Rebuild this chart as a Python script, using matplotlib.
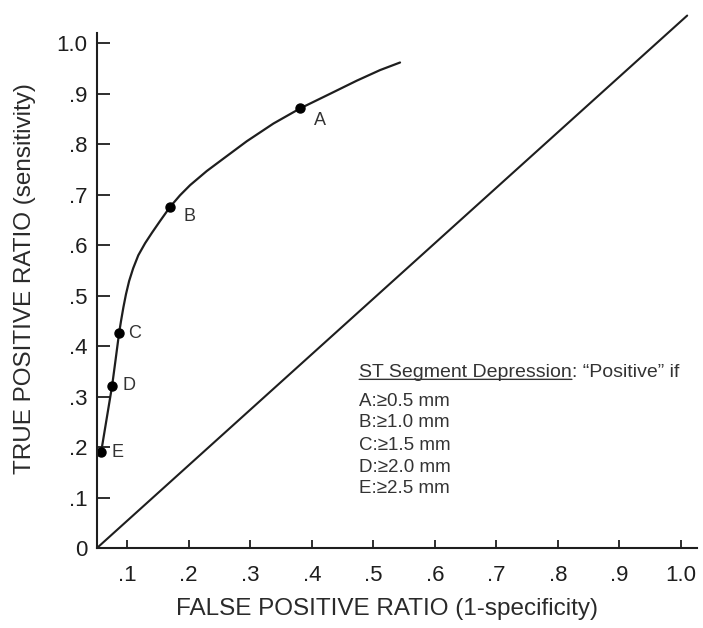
import matplotlib
matplotlib.use("Agg")
from matplotlib import pyplot as plt
from matplotlib.ticker import FixedLocator

plt.rcParams['font.family'] = ['Liberation Sans', 'DejaVu Sans']

ink = '#1e1e1e'

# ROC curve traced through the cut-off points
curve_fpr = [0.0577, 0.0755, 0.0812, 0.0869, 0.0902, 0.0939, 0.0981, 0.1032,
             0.1097, 0.1181, 0.1292, 0.1405, 0.1535, 0.1698, 0.1860, 0.2023,
             0.2294, 0.2591, 0.2944, 0.3376, 0.3810, 0.4297, 0.4731, 0.5110,
             0.5434]
curve_tpr = [0.190, 0.321, 0.373, 0.426, 0.451, 0.477, 0.503, 0.529,
             0.554, 0.580, 0.604, 0.625, 0.648, 0.676, 0.699, 0.719,
             0.747, 0.774, 0.806, 0.841, 0.871, 0.900, 0.926, 0.947,
             0.962]

# cut-off points for ST depression
point_names = ['A', 'B', 'C', 'D', 'E']
point_fpr = [0.3810, 0.1698, 0.0869, 0.0755, 0.0577]
point_tpr = [0.871, 0.676, 0.426, 0.321, 0.190]
label_offsets = [(14, -9), (14, -7), (11, 0), (12, 0), (12, 0)]

criteria = ['A:\u22650.5 mm', 'B:\u22651.0 mm', 'C:\u22651.5 mm',
            'D:\u22652.0 mm', 'E:\u22652.5 mm']

# chance line
chance_x = [0.051, 1.010]
chance_y = [0.0, 1.055]

x_ticks = [0.1, 0.2, 0.3, 0.4, 0.5, 0.6, 0.7, 0.8, 0.9, 1.0]
x_ticklabels = ['.1', '.2', '.3', '.4', '.5', '.6', '.7', '.8', '.9', '1.0']
y_ticks = [0.0, 0.1, 0.2, 0.3, 0.4, 0.5, 0.6, 0.7, 0.8, 0.9, 1.0]
y_ticklabels = ['0', '.1', '.2', '.3', '.4', '.5', '.6', '.7', '.8', '.9', '1.0']

fig = plt.figure(figsize=(7.03, 6.28), dpi=100)
ax = fig.add_axes([97 / 703, 80 / 628, (699.5 - 97) / 703, 540 / 628])
ax.set_xlim(0.051, 1.03)
ax.set_ylim(0, 1.07)

ax.plot(chance_x, chance_y, color=ink, lw=1.5, solid_capstyle='round')
ax.plot(curve_fpr, curve_tpr, color=ink, lw=1.6, solid_capstyle='round',
        solid_joinstyle='round')
ax.plot(point_fpr, point_tpr, 'o', color='black', ms=6.5, clip_on=False)

for name, fx, ty, off in zip(point_names, point_fpr, point_tpr, label_offsets):
    ax.annotate(name, (fx, ty), xytext=off, textcoords='offset points',
                ha='center', va='center', fontsize=13, color='#333333')

# criteria block
head = ax.text(0.477, 0.347, 'ST Segment Depression', fontsize=14,
               color='#333333', va='center', ha='left')
ax.annotate(': \u201cPositive\u201d if', xy=(1, 0.5), xycoords=head,
            ha='left', va='center', fontsize=14, color='#333333')
ax.annotate('', xy=(0, 0.12), xycoords=head, xytext=(1, 0.12),
            textcoords=head,
            arrowprops=dict(arrowstyle='-', lw=1.0, color='#333333',
                            shrinkA=0, shrinkB=0))
rows_y = [0.291, 0.248, 0.204, 0.160, 0.117]
for txt, ry in zip(criteria, rows_y):
    ax.text(0.477, ry, txt, fontsize=13.5, color='#333333', va='center',
            ha='left')

for side in ['top', 'right']:
    ax.spines[side].set_visible(False)
ax.spines['left'].set_bounds(0, 1.02)
ax.spines['bottom'].set_bounds(0.051, 1.026)
for side in ['left', 'bottom']:
    ax.spines[side].set_linewidth(1.5)
    ax.spines[side].set_color(ink)

ax.xaxis.set_major_locator(FixedLocator(x_ticks))
ax.set_xticklabels(x_ticklabels)
ax.yaxis.set_major_locator(FixedLocator(y_ticks))
ax.set_yticklabels(y_ticklabels)
ax.tick_params(axis='y', direction='in', length=9, width=1.3, pad=7,
               labelsize=16, colors=ink)
ax.tick_params(axis='x', direction='in', length=6, width=1.3, pad=12,
               labelsize=16, colors=ink)

fig.text(387 / 703, 1 - 609 / 628, 'FALSE POSITIVE RATIO (1-specificity)',
         fontsize=17.5, color='#2a2a2a', ha='center', va='center')
fig.text(25 / 703, 1 - 279 / 628, 'TRUE POSITIVE RATIO (sensitivity)',
         fontsize=17.5, color='#2a2a2a', ha='center', va='center',
         rotation=90)

fig.savefig('out.png', dpi=100)
